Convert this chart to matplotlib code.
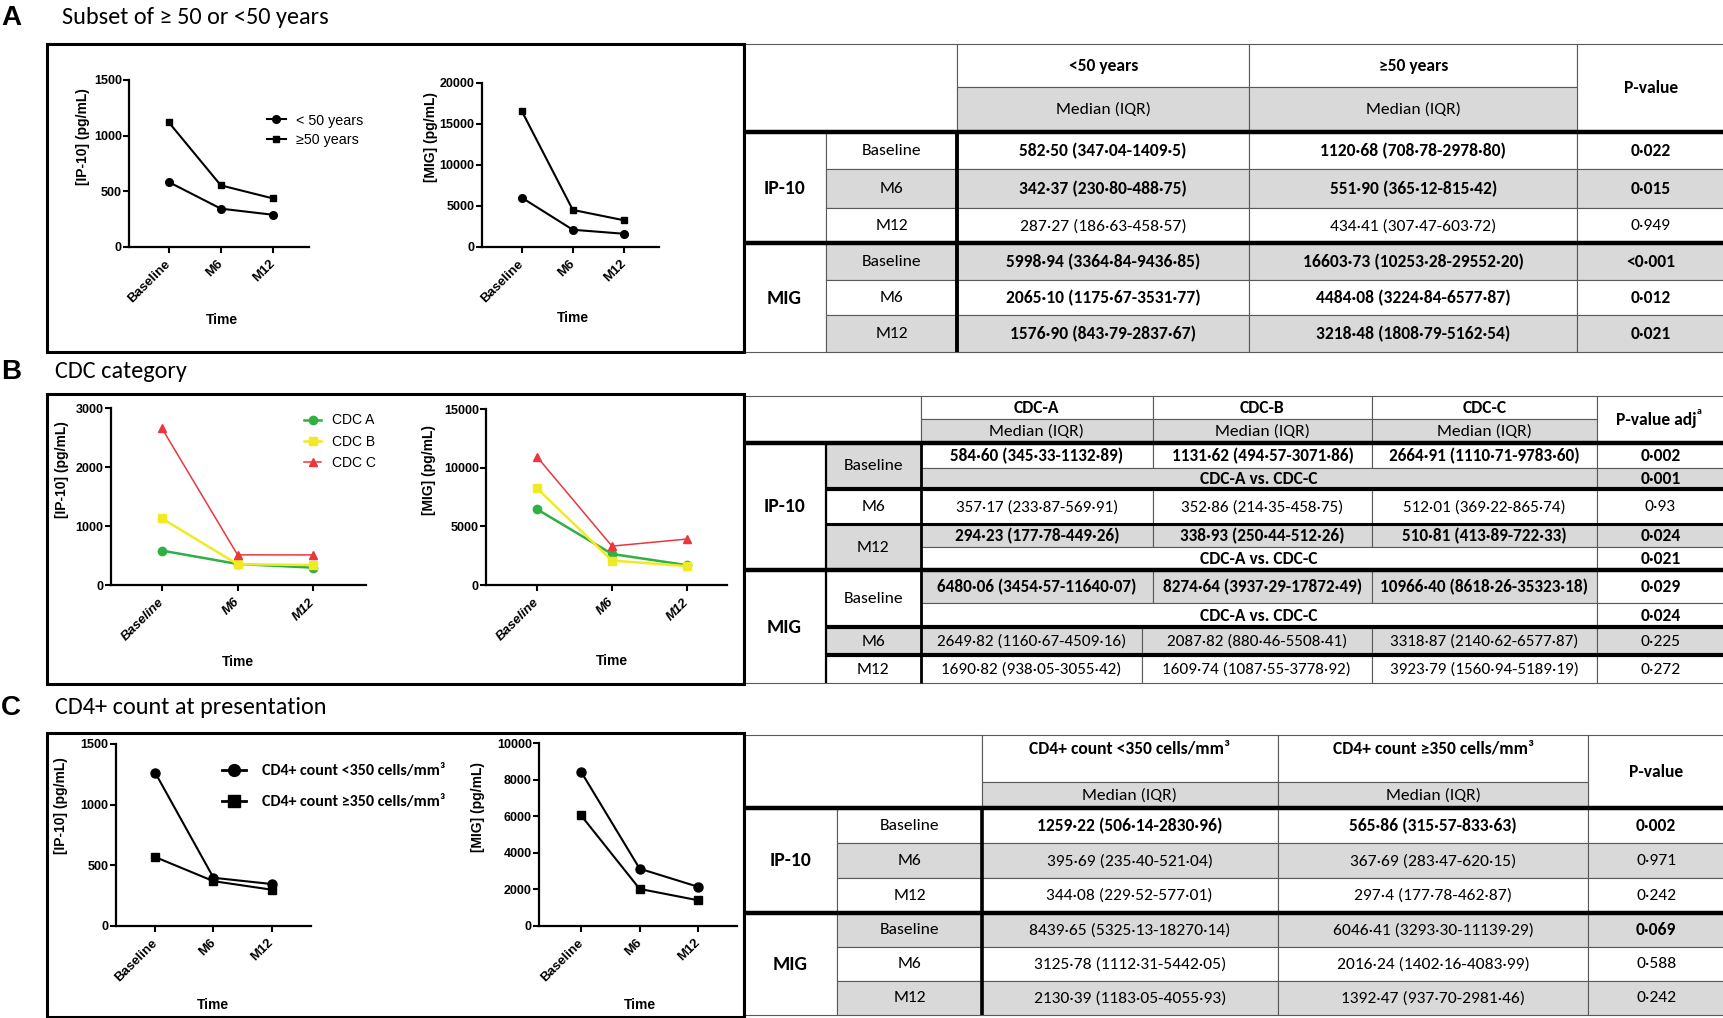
import matplotlib
matplotlib.use("Agg")
import matplotlib.pyplot as plt
from matplotlib import font_manager
from matplotlib.patches import Rectangle
from matplotlib.lines import Line2D

W, H = 1724, 1018

# ---------------- data ----------------
times = ["Baseline", "M6", "M12"]

age_labels = ["< 50 years", "\u226550 years"]
ip10_age_lt50 = [582.50, 342.37, 287.27]
ip10_age_ge50 = [1120.68, 551.90, 434.41]
mig_age_lt50 = [5998.94, 2065.10, 1576.90]
mig_age_ge50 = [16603.73, 4484.08, 3218.48]

cdc_labels = ["CDC A", "CDC B", "CDC C"]
ip10_cdc_a = [584.60, 357.17, 294.23]
ip10_cdc_b = [1131.62, 352.86, 338.93]
ip10_cdc_c = [2664.91, 512.01, 510.81]
mig_cdc_a = [6480.06, 2649.82, 1690.82]
mig_cdc_b = [8274.64, 2087.82, 1609.74]
mig_cdc_c = [10966.40, 3318.87, 3923.79]

cd4_labels = ["CD4+ count <350 cells/mm\u00b3", "CD4+ count \u2265350 cells/mm\u00b3"]
ip10_cd4_lt350 = [1259.22, 395.69, 344.08]
ip10_cd4_ge350 = [565.86, 367.69, 297.4]
mig_cd4_lt350 = [8439.65, 3125.78, 2130.39]
mig_cd4_ge350 = [6046.41, 2016.24, 1392.47]

ip10_ticks_a = [0, 500, 1000, 1500]
mig_ticks_a = [0, 5000, 10000, 15000, 20000]
ip10_ticks_b = [0, 1000, 2000, 3000]
mig_ticks_b = [0, 5000, 10000, 15000]
ip10_ticks_c = [0, 500, 1000, 1500]
mig_ticks_c = [0, 2000, 4000, 6000, 8000, 10000]

panel_titles = ["Subset of \u2265 50 or <50 years", "CDC category", "CD4+ count at presentation"]
panel_letters = ["A", "B", "C"]

# table A
tA_head = ["<50 years", "\u226550 years", "P-value"]
tA_ip10_lt50 = ["582·50 (347·04-1409·5)", "342·37 (230·80-488·75)", "287·27 (186·63-458·57)"]
tA_ip10_ge50 = ["1120·68 (708·78-2978·80)", "551·90 (365·12-815·42)", "434·41 (307·47-603·72)"]
tA_ip10_p = ["0·022", "0·015", "0·949"]
tA_mig_lt50 = ["5998·94 (3364·84-9436·85)", "2065·10 (1175·67-3531·77)", "1576·90 (843·79-2837·67)"]
tA_mig_ge50 = ["16603·73 (10253·28-29552·20)", "4484·08 (3224·84-6577·87)", "3218·48 (1808·79-5162·54)"]
tA_mig_p = ["<0·001", "0·012", "0·021"]

# table B
tB_head = ["CDC-A", "CDC-B", "CDC-C", "P-value adj"]
tB_ip10_a = ["584·60 (345·33-1132·89)", "357·17 (233·87-569·91)", "294·23 (177·78-449·26)"]
tB_ip10_b = ["1131·62 (494·57-3071·86)", "352·86 (214·35-458·75)", "338·93 (250·44-512·26)"]
tB_ip10_c = ["2664·91 (1110·71-9783·60)", "512·01 (369·22-865·74)", "510·81 (413·89-722·33)"]
tB_ip10_p = ["0·002", "0·93", "0·024"]
tB_ip10_comp_p = ["0·001", "", "0·021"]
tB_mig_a = ["6480·06 (3454·57-11640·07)", "2649·82 (1160·67-4509·16)", "1690·82 (938·05-3055·42)"]
tB_mig_b = ["8274·64 (3937·29-17872·49)", "2087·82 (880·46-5508·41)", "1609·74 (1087·55-3778·92)"]
tB_mig_c = ["10966·40 (8618·26-35323·18)", "3318·87 (2140·62-6577·87)", "3923·79 (1560·94-5189·19)"]
tB_mig_p = ["0·029", "0·225", "0·272"]
tB_mig_comp_p = ["0·024", "", ""]
tB_comp = "CDC-A vs. CDC-C"

# table C
tC_head = ["CD4+ count <350 cells/mm\u00b3", "CD4+ count \u2265350 cells/mm\u00b3", "P-value"]
tC_ip10_lt = ["1259·22 (506·14-2830·96)", "395·69 (235·40-521·04)", "344·08 (229·52-577·01)"]
tC_ip10_ge = ["565·86 (315·57-833·63)", "367·69 (283·47-620·15)", "297·4 (177·78-462·87)"]
tC_ip10_p = ["0·002", "0·971", "0·242"]
tC_mig_lt = ["8439·65 (5325·13-18270·14)", "3125·78 (1112·31-5442·05)", "2130·39 (1183·05-4055·93)"]
tC_mig_ge = ["6046·41 (3293·30-11139·29)", "2016·24 (1402·16-4083·99)", "1392·47 (937·70-2981·46)"]
tC_mig_p = ["0·069", "0·588", "0·242"]

# ---------------- fonts ----------------
avail = {f.name for f in font_manager.fontManager.ttflist}
TFONT = "DejaVu Sans"
for cand in ["Carlito", "Liberation Sans Narrow", "Open Sans", "Lato"]:
    if cand in avail:
        TFONT = cand
        break
TSZ = {"Carlito": 12.6, "Liberation Sans Narrow": 13.2, "Open Sans": 10.8, "Lato": 11.5}.get(TFONT, 10.5)
TITSZ = {"Carlito": 17.5, "Liberation Sans Narrow": 18, "Open Sans": 15, "Lato": 16.2}.get(TFONT, 14.5)
PFONT = "Liberation Sans" if "Liberation Sans" in avail else "DejaVu Sans"
plt.rcParams["font.family"] = [PFONT, "DejaVu Sans"]

GRAY = "#d9d9d9"
LINEC = "#595959"

fig = plt.figure(figsize=(W / 100, H / 100), dpi=100)
fig.patch.set_facecolor("white")

tax = fig.add_axes([0, 0, 1, 1])
tax.set_xlim(0, W)
tax.set_ylim(H, 0)
tax.axis("off")


def px_axes(x0, y0, x1, y1):
    return fig.add_axes([x0 / W, 1 - y1 / H, (x1 - x0) / W, (y1 - y0) / H])


def ftext(x, y, s, **kw):
    return fig.text(x / W, 1 - y / H, s, **kw)


def style_axes(ax, xlim, ytop, yticks, italic=False):
    ax.set_xlim(*xlim)
    ax.set_ylim(0, ytop)
    ax.patch.set_alpha(0)
    for s in ["top", "right"]:
        ax.spines[s].set_visible(False)
    for s in ["left", "bottom"]:
        ax.spines[s].set_linewidth(1.6)
    ax.set_xticks(range(len(times)))
    ax.set_xticklabels(times, rotation=45, ha="right", va="center",
                       rotation_mode="anchor", fontweight="bold", fontsize=9.5,
                       fontstyle="italic" if italic else "normal")
    ax.set_yticks(yticks)
    ax.set_yticklabels([str(t) for t in yticks], fontweight="bold", fontsize=9)
    ax.tick_params(axis="both", direction="out", length=4, width=1.5)
    ax.tick_params(axis="x", pad=7)
    ax.tick_params(axis="y", pad=1.5)


def line_panel(rect, xlim, ytop, yticks, series, styles, ylabel, ylab_xy, time_xy, italic=False):
    ax = px_axes(*rect)
    style_axes(ax, xlim, ytop, yticks, italic)
    x = list(range(len(times)))
    for vals, st in zip(series, styles):
        ax.plot(x, vals, clip_on=False, **st)
    ftext(ylab_xy[0], ylab_xy[1], ylabel, rotation=90, ha="center", va="center",
          fontsize=10, fontweight="bold")
    ftext(time_xy[0], time_xy[1], "Time", ha="center", va="center",
          fontsize=10, fontweight="bold")
    return ax


# ---------------- panel A plots ----------------
stA = [dict(color="black", lw=1.5, marker="o", ms=5.5),
       dict(color="black", lw=1.5, marker="s", ms=5)]
axA1 = line_panel((129.5, 80, 309, 246.7), (-0.75, 2.69), 1500, ip10_ticks_a,
                  [ip10_age_lt50, ip10_age_ge50], stA, "[IP-10] (pg/mL)", (82.6, 137), (222, 320))
axA2 = line_panel((482, 82.7, 658.5, 246.7), (-0.77, 2.67), 20000, mig_ticks_a,
                  [mig_age_lt50, mig_age_ge50], stA, "[MIG] (pg/mL)", (431, 137.5), (573, 318))
hA = [Line2D([], [], **s) for s in stA]
axA1.legend(hA, age_labels, loc="upper left", bbox_to_anchor=(267 / W, 1 - 113.5 / H),
            bbox_transform=fig.transFigure, frameon=False, borderpad=0, borderaxespad=0,
            handlelength=1.3, handletextpad=0.7, labelspacing=0.4, prop={"size": 10.3})

# ---------------- panel B plots ----------------
GREEN, YELLOW, RED = "#2fb043", "#f1ea22", "#e8383d"
stB = [dict(color=GREEN, lw=1.8, marker="o", ms=6),
       dict(color=YELLOW, lw=1.8, marker="s", ms=6),
       dict(color=RED, lw=1.1, marker="^", ms=5.5)]
axB1 = line_panel((111, 408.3, 366, 585), (-0.67, 2.695), 3000, ip10_ticks_b,
                  [ip10_cdc_a, ip10_cdc_b, ip10_cdc_c], stB, "[IP-10] (pg/mL)", (62, 470), (237.7, 662),
                  italic=True)
axB2 = line_panel((486.4, 409.3, 727, 585), (-0.67, 2.53), 15000, mig_ticks_b,
                  [mig_cdc_a, mig_cdc_b, mig_cdc_c], stB, "[MIG] (pg/mL)", (429, 470), (612, 661),
                  italic=True)
hB = [Line2D([], [], **s) for s in stB]
axB1.legend(hB, cdc_labels, loc="upper left", bbox_to_anchor=(303.7 / W, 1 - 413.5 / H),
            bbox_transform=fig.transFigure, frameon=False, borderpad=0, borderaxespad=0,
            handlelength=1.27, handletextpad=0.8, labelspacing=0.52, prop={"size": 10})

# ---------------- panel C plots ----------------
stC = [dict(color="black", lw=1.5, marker="o", ms=6.5),
       dict(color="black", lw=1.5, marker="s", ms=6)]
axC1 = line_panel((116, 744, 311, 925.7), (-0.68, 2.68), 1500, ip10_ticks_c,
                  [ip10_cd4_lt350, ip10_cd4_ge350], stC, "[IP-10] (pg/mL)", (61, 806), (213, 1005))
axC2 = line_panel((539.5, 743.3, 736.6, 925.7), (-0.71, 2.655), 10000, mig_ticks_c,
                  [mig_cd4_lt350, mig_cd4_ge350], stC, "[MIG] (pg/mL)", (478, 807), (639.5, 1005))
hC = [Line2D([], [], color="black", lw=2, marker="o", ms=8.5),
      Line2D([], [], color="black", lw=2, marker="s", ms=8)]
axC1.legend(hC, cd4_labels, loc="upper left", bbox_to_anchor=(222.4 / W, 1 - 764 / H),
            bbox_transform=fig.transFigure, frameon=False, borderpad=0, borderaxespad=0,
            handlelength=1.5, handletextpad=1.0, labelspacing=1.05,
            prop={"family": [TFONT, "DejaVu Sans"], "size": 11.5, "weight": "bold"})

# ---------------- titles & boxes ----------------
title_y = [18, 371.7, 708]
title_x = [62.5, 55, 55]
for L, T, y, x in zip(panel_letters, panel_titles, title_y, title_x):
    ftext(1, y, L, ha="left", va="center", fontsize=20, fontweight="bold")
    ftext(x, y, T, ha="left", va="center", fontsize=TITSZ, family=[TFONT, "DejaVu Sans"])

for (x0, y0, x1, y1) in [(47, 44, 744.5, 352), (47, 394.3, 744.5, 684), (47, 733.3, 744.5, 1016.5)]:
    tax.add_patch(Rectangle((x0, y0), x1 - x0, y1 - y0, fill=False, edgecolor="black", lw=2.2, zorder=5))


# ---------------- table helpers ----------------
def cell(x0, x1, y0, y1, text="", bold=False, fill="white", size=None, ty=None):
    tax.add_patch(Rectangle((x0, y0), x1 - x0, y1 - y0, facecolor=fill, edgecolor=LINEC, lw=0.8, zorder=2))
    if text:
        return tax.text((x0 + x1) / 2, ty if ty is not None else (y0 + y1) / 2 + 0.5, text,
                        ha="center", va="center", fontsize=size or TSZ,
                        fontweight="bold" if bold else "normal",
                        family=[TFONT, "DejaVu Sans"], zorder=3)


def hline(y, x0, x1, lw=3.0):
    tax.plot([x0, x1], [y, y], color="black", lw=lw, solid_capstyle="butt", zorder=4)


def vline(x, y0, y1, lw=3.0):
    tax.plot([x, x], [y0, y1], color="black", lw=lw, solid_capstyle="butt", zorder=4)


# ---------------- table A ----------------
XA = [742.6, 826, 957, 1249.4, 1577.4, 1724]
YA = [44, 86.7, 131.7, 169.3, 208.3, 243.3, 280, 315, 351.7]
cell(XA[0], XA[2], YA[0], YA[2])
cell(XA[2], XA[3], YA[0], YA[1], tA_head[0], bold=True)
cell(XA[3], XA[4], YA[0], YA[1], tA_head[1], bold=True)
cell(XA[4], XA[5], YA[0], YA[2], tA_head[2], bold=True)
cell(XA[2], XA[3], YA[1], YA[2], "Median (IQR)", fill=GRAY)
cell(XA[3], XA[4], YA[1], YA[2], "Median (IQR)", fill=GRAY)
groupsA = [("IP-10", 2, [tA_ip10_lt50, tA_ip10_ge50, tA_ip10_p], ["white", GRAY, "white"], [True, True, False]),
           ("MIG", 5, [tA_mig_lt50, tA_mig_ge50, tA_mig_p], [GRAY, "white", GRAY], [True, True, True])]
for name, r0, cols, fills, bolds in groupsA:
    cell(XA[0], XA[1], YA[r0], YA[r0 + 3], name, bold=True, size=TSZ + 1.5)
    for i in range(3):
        y0, y1 = YA[r0 + i], YA[r0 + i + 1]
        cell(XA[1], XA[2], y0, y1, times[i], fill=fills[i])
        for j in range(3):
            cell(XA[2 + j], XA[3 + j], y0, y1, cols[j][i], bold=bolds[i], fill=fills[i])
hline(YA[2], XA[0], XA[5], 3.2)
hline(YA[5], XA[0], XA[5], 3.2)
vline(XA[2], YA[2], YA[8], 2.8)

# ---------------- table B ----------------
XB = [743, 826, 920.7, 1153, 1372, 1596.6, 1724]
YB = [396, 419.3, 442.7]
cell(XB[0], XB[2], YB[0], YB[2])
for j in range(3):
    cell(XB[2 + j], XB[3 + j], YB[0], YB[1], tB_head[j], bold=True)
    cell(XB[2 + j], XB[3 + j], YB[1], YB[2], "Median (IQR)", fill=GRAY)
cell(XB[5], XB[6], YB[0], YB[2])
tpa = tax.text(1656, 420, tB_head[3], ha="center", va="center", fontsize=TSZ, fontweight="bold",
               family=[TFONT, "DejaVu Sans"], zorder=3)
tax.annotate("a", xy=(1.0, 0.72), xycoords=tpa, xytext=(0.5, 0), textcoords="offset points",
             ha="left", va="bottom", fontsize=TSZ * 0.55, fontweight="bold",
             family=[TFONT, "DejaVu Sans"], zorder=3)

XB2 = [743, 826, 920.7, 1141.6, 1372, 1596.6, 1724]
rowsB = [
    (442.7, 467.7, 489.3, times[0], GRAY, [tB_ip10_a[0], tB_ip10_b[0], tB_ip10_c[0]], tB_ip10_p[0], tB_ip10_comp_p[0], "white", "white", GRAY, True, XB),
    (489.3, None, 524.0, times[1], "white", [tB_ip10_a[1], tB_ip10_b[1], tB_ip10_c[1]], tB_ip10_p[1], "", "white", "white", "white", False, XB),
    (524.0, 547.3, 570.0, times[2], GRAY, [tB_ip10_a[2], tB_ip10_b[2], tB_ip10_c[2]], tB_ip10_p[2], tB_ip10_comp_p[2], GRAY, GRAY, "white", True, XB),
    (570.0, 603.3, 627.3, times[0], "white", [tB_mig_a[0], tB_mig_b[0], tB_mig_c[0]], tB_mig_p[0], tB_mig_comp_p[0], GRAY, "white", "white", True, XB),
    (627.3, None, 655.0, times[1], GRAY, [tB_mig_a[1], tB_mig_b[1], tB_mig_c[1]], tB_mig_p[1], "", GRAY, GRAY, GRAY, False, XB2),
    (655.0, None, 683.3, times[2], "white", [tB_mig_a[2], tB_mig_b[2], tB_mig_c[2]], tB_mig_p[2], "", "white", "white", "white", False, XB2),
]
cell(XB[0], XB[1], 442.7, 570.0, "IP-10", bold=True, size=TSZ + 1.5)
cell(XB[0], XB[1], 570.0, 683.3, "MIG", bold=True, size=TSZ + 1.5)
for (y0, ym, y1, lab, lfill, vals, p, cp, vfill, pfill, cfill, bold, X) in rowsB:
    cell(X[1], X[2], y0, y1, lab, fill=lfill)
    yv1 = ym if ym is not None else y1
    for j in range(3):
        cell(X[2 + j], X[3 + j], y0, yv1, vals[j], bold=bold, fill=vfill, size=TSZ - 0.3)
    cell(X[5], X[6], y0, yv1, p, bold=bold, fill=pfill)
    if ym is not None:
        cell(X[2], X[5], ym, y1, tB_comp, bold=True, fill=cfill)
        cell(X[5], X[6], ym, y1, cp, bold=True, fill=cfill)
hline(442.7, XB[0], XB[6], 3.2)
hline(489.3, XB[1], XB[6], 3.0)
hline(524.0, XB[1], XB[6], 2.2)
hline(570.0, XB[0], XB[6], 3.2)
hline(627.3, XB[1], XB[6], 3.0)
hline(655.0, XB[1], XB[6], 3.0)
vline(XB[1], 442.7, 683.3, 1.6)
vline(XB[2], 442.7, 683.3, 2.0)

# ---------------- table C ----------------
XC = [743, 837.3, 981.6, 1277.8, 1588.5, 1724]
YC = [735, 781.7, 808.3, 843.3, 878.3, 912.7, 946.7, 980.7, 1015]
cell(XC[0], XC[2], YC[0], YC[2])
cell(XC[2], XC[3], YC[0], YC[1], tC_head[0], bold=True, ty=749)
cell(XC[3], XC[4], YC[0], YC[1], tC_head[1], bold=True, ty=749)
cell(XC[4], XC[5], YC[0], YC[2], tC_head[2], bold=True)
cell(XC[2], XC[3], YC[1], YC[2], "Median (IQR)", fill=GRAY)
cell(XC[3], XC[4], YC[1], YC[2], "Median (IQR)", fill=GRAY)
groupsC = [("IP-10", 2, [tC_ip10_lt, tC_ip10_ge, tC_ip10_p], ["white", GRAY, "white"],
            [[True, True, True], [False] * 3, [False] * 3]),
           ("MIG", 5, [tC_mig_lt, tC_mig_ge, tC_mig_p], [GRAY, "white", GRAY],
            [[False, False, True], [False] * 3, [False] * 3])]
for name, r0, cols, fills, bolds in groupsC:
    cell(XC[0], XC[1], YC[r0], YC[r0 + 3], name, bold=True, size=TSZ + 1.5)
    for i in range(3):
        y0, y1 = YC[r0 + i], YC[r0 + i + 1]
        cell(XC[1], XC[2], y0, y1, times[i], fill=fills[i])
        for j in range(3):
            cell(XC[2 + j], XC[3 + j], y0, y1, cols[j][i], bold=bolds[i][j], fill=fills[i])
hline(YC[2], XC[0], XC[5], 3.2)
hline(YC[5], XC[0], XC[5], 3.2)
vline(XC[2], YC[2], YC[8], 2.6)

fig.savefig("out.png", dpi=100, facecolor="white")
